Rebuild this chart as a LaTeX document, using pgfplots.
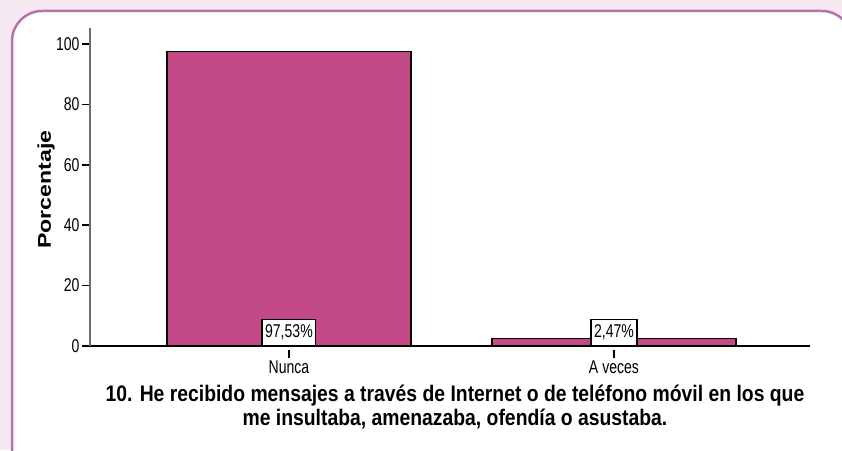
\documentclass[border=0pt]{standalone}
\usepackage{pgfplots}
\pgfplotsset{compat=1.18}
\usepackage{fontspec}
\setmainfont{Liberation Sans}[FakeStretch=0.76]
\newfontfamily\ylabfont{Liberation Sans}[FakeStretch=1.25]
\newfontfamily\titlefont{Liberation Sans}[FakeStretch=0.86]
\definecolor{barfill}{RGB}{196,74,135}
\definecolor{bgpink}{RGB}{246,233,242}
\definecolor{panelborder}{RGB}{181,115,172}
\definecolor{yaxisgray}{RGB}{110,110,110}
\begin{document}
\begin{tikzpicture}[x=1pt,y=1pt]
\path[use as bounding box] (0,0) rectangle (842,450);
\fill[bgpink] (0,0) rectangle (842,450);
\begin{scope}
\clip (0,0) rectangle (842,450);
\draw[panelborder, line width=2.5pt, fill=white, rounded corners=30pt] (12,-40) rectangle (852,439);
\end{scope}
\begin{axis}[
  at={(90pt,104pt)}, anchor=south west,
  scale only axis, width=720pt, height=318pt,
  xmin=-0.612, xmax=1.603, ymin=0, ymax=105.3,
  axis x line*=bottom, axis y line*=left,
  axis line style={-},
  x axis line style={black, line width=1.3pt},
  y axis line style={yaxisgray, line width=1.3pt},
  xtick={0,1}, xticklabels={Nunca, A veces},
  ytick={0,20,40,60,80,100},
  tick align=outside, major tick length=8pt,
  ytick style={black, line width=1.5pt},
  xtick style={black, line width=1.5pt, yshift=-4pt},
  ticklabel style={font=\fontsize{18.5}{20}\selectfont},
  xticklabel style={yshift=-3pt},
  yticklabel style={xshift=1pt},
  /pgf/number format/assume math mode=true,
  ylabel={\ylabfont\bfseries Porcentaje},
  ylabel style={font=\fontsize{18.5}{20}\selectfont, at={(axis description cs:-0.061,0.492)}, anchor=center, rotate=0},
]
\addplot[ybar, bar width=0.75, fill=barfill, draw=black, line width=1.4pt] coordinates {(0,97.53) (1,2.47)};
\addplot[draw=none, mark=none, nodes near coords, point meta=explicit symbolic,
  every node near coord/.style={anchor=south, fill=white, draw=black, line width=1.2pt, inner xsep=3pt, inner ysep=5.5pt, text=black, font=\fontsize{18.5}{20}\selectfont}]
  coordinates {(0,0) [{97,53\%}] (1,0) [{2,47\%}]};
\end{axis}
\node[align=center, font=\titlefont\bfseries\fontsize{22.5}{24}\selectfont] at (455,43)
  {10. He recibido mensajes a través de Internet o de teléfono móvil en los que\\me insultaba, amenazaba, ofendía o asustaba.};
\end{tikzpicture}
\end{document}
